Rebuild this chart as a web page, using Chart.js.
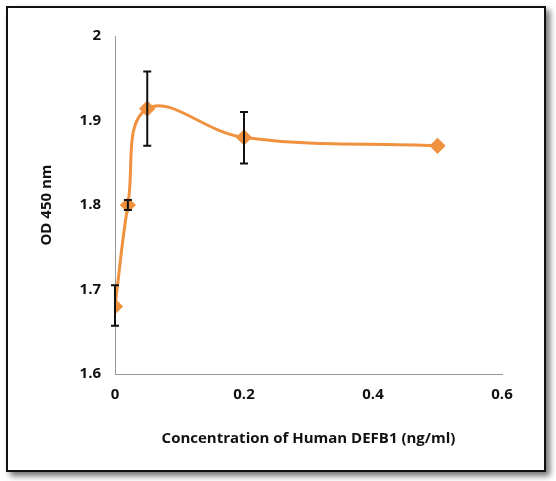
<!DOCTYPE html>
<html><head><meta charset="utf-8">
<script src="https://cdn.jsdelivr.net/npm/chart.js@4"></script>
<style>
html,body{margin:0;padding:0;background:#fff;}
#wrap{position:absolute;left:0;top:0;width:556px;height:481px;}
#frame{position:absolute;left:6px;top:6px;width:536px;height:462px;border:2px solid #111;box-shadow:4px 4px 6px rgba(0,0,0,0.55);pointer-events:none;}
canvas{position:absolute;left:0;top:0;}
</style></head><body>
<div id="wrap"><canvas id="c" width="556" height="481"></canvas><div id="frame"></div></div>
<script>
const xValues=[0,0.02,0.05,0.2,0.5];
const yValues=[1.68,1.80,1.914,1.880,1.870];
const errLow=[1.657,1.794,1.870,1.849,1.870];
const errHigh=[1.705,1.806,1.958,1.910,1.870];
const xTitle='Concentration of Human DEFB1 (ng/ml)';
const yTitle='OD 450 nm';
const font="'Open Sans', 'DejaVu Sans', sans-serif";
const errPlugin={id:'err',afterDatasetsDraw(ch){
  const ctx=ch.ctx,xs=ch.scales.x,ys=ch.scales.y;
  ctx.save();ctx.strokeStyle='#111';ctx.lineWidth=2;
  xValues.forEach((x,i)=>{
    if(errHigh[i]-errLow[i]<1e-6)return;
    const px=xs.getPixelForValue(x),y1=ys.getPixelForValue(errLow[i]),y2=ys.getPixelForValue(errHigh[i]);
    ctx.beginPath();ctx.moveTo(px,y1);ctx.lineTo(px,y2);
    ctx.moveTo(px-4,y1);ctx.lineTo(px+4,y1);ctx.moveTo(px-4,y2);ctx.lineTo(px+4,y2);ctx.stroke();
  });
  ctx.restore();
}};
new Chart(document.getElementById('c'),{
  type:'line',
  data:{datasets:[{data:xValues.map((x,i)=>({x:x,y:yValues[i]})),borderColor:'#f0913f',backgroundColor:'#f0913f',borderWidth:3,tension:0.4,pointStyle:'rectRot',pointRadius:6,pointHoverRadius:6}]},
  options:{responsive:false,animation:false,
    layout:{padding:{left:34,right:54,top:36,bottom:29}},
    plugins:{legend:{display:false},tooltip:{enabled:false}},
    scales:{
      x:{type:'linear',min:0,max:0.6,grid:{display:false,drawTicks:true,tickLength:6},border:{color:'#999'},
        ticks:{stepSize:0.2,color:'#111',font:{family:font,size:15,weight:'bold'},padding:6,callback:v=>Number(v.toFixed(1)).toString()},
        title:{display:true,text:xTitle,color:'#111',font:{family:font,size:15,weight:'bold'},padding:{top:16}},
        afterFit(s){s.height=78;}},
      y:{min:1.6,max:2,grid:{display:false,tickLength:6},border:{color:'#999'},
        ticks:{stepSize:0.1,color:'#111',font:{family:font,size:15,weight:'bold'},padding:8,callback:v=>Number(v.toFixed(1)).toString()},
        title:{display:true,text:yTitle,color:'#111',font:{family:font,size:15,weight:'bold'},padding:{bottom:12}},
        afterFit(s){s.width=81;}}
    }},
  plugins:[errPlugin]
});
</script></body></html>
